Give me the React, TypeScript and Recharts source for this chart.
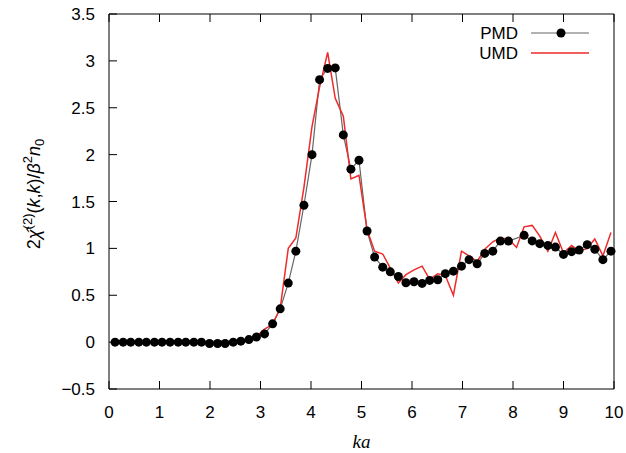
import React from 'react';
import { LineChart, Line, XAxis, YAxis } from 'recharts';

// ka grid
const kaValues = [
  0.12, 0.28, 0.43, 0.59, 0.74, 0.90, 1.05, 1.21, 1.37, 1.52,
  1.68, 1.83, 1.99, 2.15, 2.30, 2.46, 2.61, 2.77, 2.92, 3.08,
  3.24, 3.39, 3.55, 3.70, 3.86, 4.02, 4.17, 4.33, 4.48, 4.64,
  4.79, 4.95, 5.11, 5.26, 5.42, 5.57, 5.73, 5.88, 6.04, 6.20,
  6.35, 6.51, 6.66, 6.82, 6.98, 7.13, 7.29, 7.44, 7.60, 7.75,
  7.91, 8.07, 8.22, 8.38, 8.53, 8.69, 8.84, 9.00, 9.16, 9.31,
  9.47, 9.62, 9.78, 9.94,
];

const pmdValues = [
  0, 0, 0, 0, 0, 0, 0, 0, 0, 0,
  0, 0, -0.015, -0.015, -0.015, 0, 0.01, 0.027, 0.055, 0.088,
  0.195, 0.355, 0.63, 0.97, 1.46, 2.0, 2.8, 2.92, 2.925, 2.21,
  1.845, 1.94, 1.185, 0.907, 0.8, 0.75, 0.7, 0.633, 0.644, 0.626,
  0.658, 0.665, 0.73, 0.757, 0.81, 0.88, 0.836, 0.946, 0.97, 1.078,
  1.078, null, 1.139, 1.08, 1.05, 1.032, 1.014, 0.936, 0.965, 0.982,
  1.04, 0.99, 0.88, 0.97,
];

const umdValues = [
  0, 0, 0, 0, 0, 0, 0, 0, 0, 0,
  0, 0, 0, 0, 0, -0.035, 0.02, 0.03, 0.06, 0.14,
  0.19, 0.36, 1.0, 1.11, 1.65, 2.3, 2.72, 3.09, 2.6, 2.41,
  1.74, 1.78, 1.2, 0.97, 0.94, 0.79, 0.63, 0.72, 0.77, 0.81,
  0.67, 0.73, 0.71, 0.5, 0.97, 0.92, 0.86, 0.99, 1.07, 1.11,
  1.1, 1.01, 1.23, 1.245, 1.13, 0.97, 1.17, 0.95, 1.03, 0.97,
  1.0, 1.1, 0.92, 1.17,
];

const xTicks = [0, 1, 2, 3, 4, 5, 6, 7, 8, 9, 10];
const yTicks = [-0.5, 0, 0.5, 1, 1.5, 2, 2.5, 3, 3.5];

const rows = kaValues.map((ka, i) => ({ ka, pmd: pmdValues[i], umd: umdValues[i] }));

const W = 626, H = 453;
const M = { top: 14, right: 12, left: 0, bottom: 0 };
const Y_W = 109, X_H = 64;
const X_DOM = [0, 10], Y_DOM = [-0.5, 3.5];

const FONT = '"Liberation Sans", Arial, Helvetica, sans-serif';
const RED = '#ee2a2a';
const tickFont = { fill: '#000', fontSize: 17, fontFamily: FONT };
const noLabel = () => '';
const fmtY = (v: number) => String(v).replace('-', '\u2212');

// rotated y label: 2 chi-hat^(2)(k,k)/beta^2 n_0
const YLabel = () => (
  <text
    transform="translate(40,194) rotate(-90)"
    textAnchor="middle"
    fontFamily={FONT}
    fontSize={18}
    fill="#000"
  >
    <tspan>2</tspan>
    <tspan fontStyle="italic">{'\u03c7\u0302'}</tspan>
    <tspan dy={-8} fontSize={13}>(2)</tspan>
    <tspan dy={8}>(</tspan>
    <tspan fontStyle="italic">k</tspan>
    <tspan>,</tspan>
    <tspan fontStyle="italic">k</tspan>
    <tspan>)/</tspan>
    <tspan fontStyle="italic">{'\u03b2'}</tspan>
    <tspan dy={-8} fontSize={13}>2</tspan>
    <tspan dy={8} fontStyle="italic">n</tspan>
    <tspan dy={4} fontSize={13}>0</tspan>
  </text>
);

const KeyBox = () => (
  <svg width={180} height={44} style={{ position: 'absolute', left: 440, top: 22 }}>
    <text x={78} y={11} textAnchor="end" dominantBaseline="central" fontFamily={FONT} fontSize={17}>PMD</text>
    <line x1={91} x2={149} y1={11} y2={11} stroke="#666" strokeWidth={1.2} />
    <circle cx={121} cy={11} r={4.5} fill="#000" />
    <text x={78} y={31} textAnchor="end" dominantBaseline="central" fontFamily={FONT} fontSize={17}>UMD</text>
    <line x1={91} x2={149} y1={31} y2={31} stroke={RED} strokeWidth={1.5} />
  </svg>
);

export default function App() {
  return (
    <div style={{ position: 'absolute', left: 0, top: 0, width: W, height: H }}>
      <LineChart width={W} height={H} data={rows} margin={M}>
        <XAxis
          xAxisId="b"
          dataKey="ka"
          type="number"
          domain={X_DOM}
          ticks={xTicks}
          height={X_H}
          stroke="#000"
          tickSize={-8}
          tickMargin={25}
          tick={tickFont}
          label={{
            value: 'ka',
            position: 'insideBottom',
            offset: 5,
            style: { fontStyle: 'italic', fontFamily: '"Liberation Serif", "DejaVu Serif", serif', fontSize: 19, fill: '#000' },
          }}
        />
        {/* mirrored top axis: closes the frame, ticks point down into the plot */}
        <XAxis
          xAxisId="t"
          orientation="top"
          mirror
          dataKey="ka"
          type="number"
          domain={X_DOM}
          ticks={xTicks}
          height={1}
          stroke="#000"
          tickSize={8}
          tickFormatter={noLabel}
        />
        <YAxis
          yAxisId="l"
          type="number"
          domain={Y_DOM}
          ticks={yTicks}
          width={Y_W}
          stroke="#000"
          tickSize={-8}
          tickMargin={22}
          tickFormatter={fmtY}
          tick={tickFont}
          label={{ content: YLabel }}
        />
        {/* mirrored right axis */}
        <YAxis
          yAxisId="r"
          orientation="right"
          mirror
          type="number"
          domain={Y_DOM}
          ticks={yTicks}
          width={1}
          stroke="#000"
          tickSize={8}
          tickFormatter={noLabel}
        />
        <Line
          xAxisId="b"
          yAxisId="l"
          dataKey="pmd"
          name="PMD"
          stroke="#666"
          strokeWidth={1.2}
          connectNulls
          dot={{ r: 4.5, fill: '#000', stroke: '#000', strokeWidth: 0 }}
          isAnimationActive={false}
        />
        <Line
          xAxisId="b"
          yAxisId="l"
          dataKey="umd"
          name="UMD"
          stroke={RED}
          strokeWidth={1.5}
          dot={false}
          isAnimationActive={false}
        />
      </LineChart>
      <KeyBox />
    </div>
  );
}
